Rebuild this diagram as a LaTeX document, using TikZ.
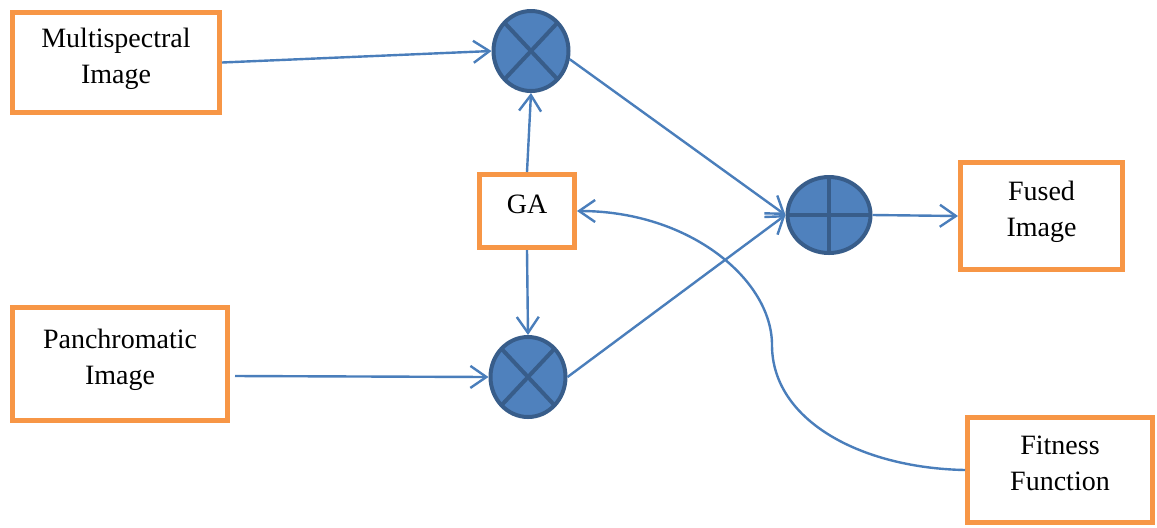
\documentclass[tikz,border=0pt]{standalone}
\usepackage{fontspec}
\setmainfont{Liberation Serif}
\usetikzlibrary{shapes.geometric,arrows.meta}
\definecolor{boxorange}{HTML}{F79646}
\definecolor{opfill}{HTML}{4F81BD}
\definecolor{opline}{HTML}{385D8A}
\definecolor{arrline}{HTML}{4A7EBB}

\begin{document}
\begin{tikzpicture}[x=0.5pt, y=-0.5pt,
        box/.style={draw=boxorange, line width=2.5pt, fill=white, align=center, inner sep=0pt, text depth=7pt, font=\fontsize{14}{18}\selectfont},
        opnode/.style={ellipse, draw=opline, fill=opfill, line width=2pt, inner sep=0pt},
        mul/.style={opnode, minimum width=37.5pt, minimum height=40pt,
            path picture={\draw[opline, line width=2pt] (path picture bounding box.north west) -- (path picture bounding box.south east)
                (path picture bounding box.north east) -- (path picture bounding box.south west);}},
        add/.style={opnode, minimum width=41.5pt, minimum height=38pt,
            path picture={\draw[opline, line width=2pt] (path picture bounding box.north) -- (path picture bounding box.south)
                (path picture bounding box.west) -- (path picture bounding box.east);}},
        arr/.style={draw=arrline, line width=1.2pt, -{Straight Barb[length=8pt,width=11pt]}}]
        \useasboundingbox (0,0) rectangle (1157,527);

        % Nodes
        \node[box, minimum width=103.5pt, minimum height=50pt] at (116, 62.5)  (ms)    {Multispectral\\Image};
        \node[box, minimum width=107.5pt, minimum height=56.5pt] at (120, 364)  (pan)    {Panchromatic\\Image};
        \node[box, minimum width=47.5pt, minimum height=36.5pt] at (527, 211)  (ga)    {GA};
        \node[box, minimum width=81pt, minimum height=53.5pt] at (1041.5, 216)  (fused)    {Fused\\Image};
        \node[box, minimum width=92.5pt, minimum height=52.5pt] at (1060, 470)  (fit)    {Fitness\\Function};

        \node[mul] at (531, 51)  (mul1)    {};
        \node[mul] at (528, 377)  (mul2)    {};
        \node[add] at (829, 215)  (plus)    {};

        % Connectors
        \draw[arr]  (ms.east) -- (mul1.west);
        \draw[arr]  ([xshift=2.5pt, yshift=-6pt]pan.east) -- (mul2.west);
        \draw[arr]  (ga.north) -- (mul1.south);
        \draw[arr]  (ga.south) -- (mul2.north);

        \draw[arr]  (mul1.-12) -- (plus.west);
        \draw[arr]  (mul2.east) -- (plus.west);
        \draw[arr]  (plus.east) -- (fused.west);

        \draw[arr]  (fit.west) .. controls (860, 468) and (772, 420) .. (772, 345)
                               .. controls (772, 280) and (690, 211) .. (ga.east);
    \end{tikzpicture}
\end{document}
